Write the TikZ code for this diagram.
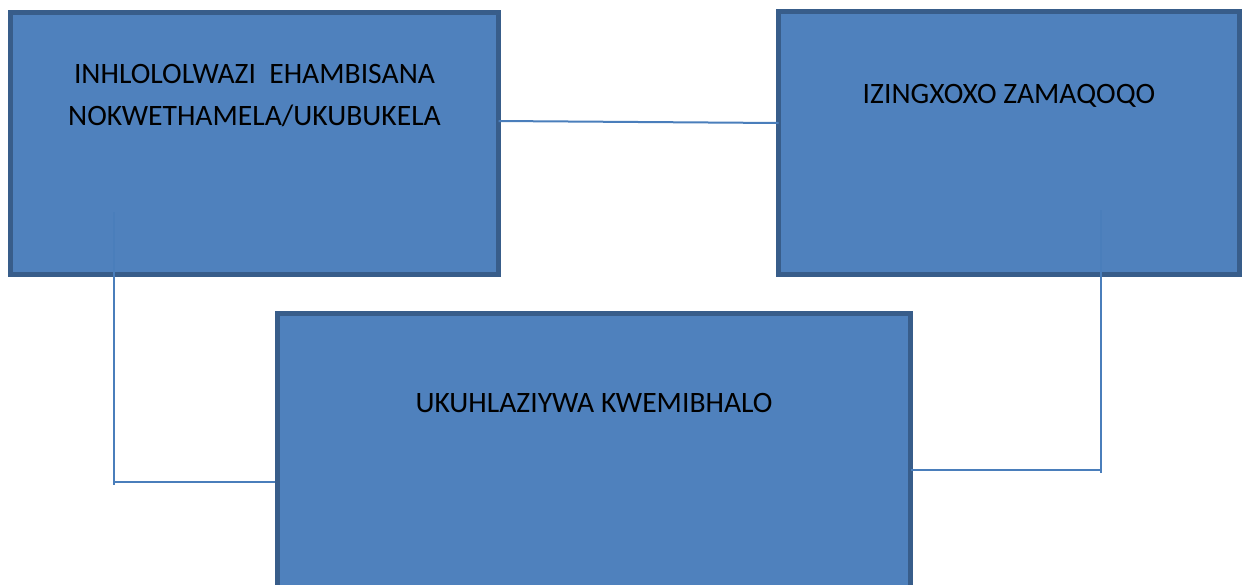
\documentclass[tikz,border=0pt]{standalone}
\usepackage{fontspec}
\setmainfont{Carlito}
\definecolor{boxfill}{HTML}{4F81BD}
\definecolor{boxline}{HTML}{385D8A}
\definecolor{conn}{HTML}{4A7EBB}
\begin{document}
\begin{tikzpicture}[x=1pt,y=-1pt,
  box/.style={draw=boxline,fill=boxfill,line width=5pt,rectangle,inner sep=0pt,outer sep=0pt},
  lbl/.style={anchor=base,inner sep=0pt,font=\fontsize{29.6}{42}\selectfont,text=black},
  connector/.style={draw=conn,line width=2pt}]
\useasboundingbox (0,0) rectangle (1242,584);
\clip (0,0) rectangle (1242,584);
\node[box,minimum width=488pt,minimum height=262pt] (A) at (254.5,143.5) {};
\node[box,minimum width=461pt,minimum height=263pt] (B) at (1009,143) {};
\node[box,minimum width=633pt,minimum height=330pt] (C) at (594,478.5) {};
\node[lbl] (a1) at (254.5,83) {INHLOLOLWAZI\ \ EHAMBISANA};
\node[lbl] (a2) at (254.5,125) {NOKWETHAMELA/UKUBUKELA};
\node[lbl] (b1) at (1009,103) {IZINGXOXO ZAMAQOQO};
\node[lbl] (c1) at (594,412) {UKUHLAZIYWA KWEMIBHALO};
\coordinate (ltop) at (113.5,212);
\coordinate (lbot) at (113.5,485);
\coordinate (rtop) at (1100.5,210);
\coordinate (rbot) at (1100.5,473);
\draw[connector] (A.east |- 0,121) -- (B.west |- 0,123);
\draw[connector] (ltop) -- (lbot);
\draw[connector] (113.5,482) -- ([xshift=-3pt]C.west |- 0,482);
\draw[connector] (rtop) -- (rbot);
\draw[connector] (C.east |- 0,470) -- (1102,470);
\end{tikzpicture}
\end{document}
